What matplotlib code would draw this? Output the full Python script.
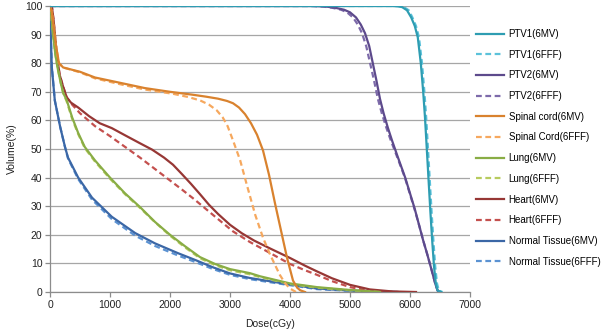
import numpy as np
import matplotlib.pyplot as plt

plt.rcParams['font.family'] = ['Liberation Sans', 'DejaVu Sans']

# DVH curves: dose (cGy) vs volume (%)
ptv1_mv_dose = [0, 5700, 5800, 5870, 5950, 6020, 6080, 6130, 6180, 6220, 6250, 6280, 6310, 6340, 6370, 6400, 6430, 6460, 6520]
ptv1_mv_vol = [100, 100, 99.9, 99.6, 98.5, 96, 93, 89, 80, 70, 61, 50, 39, 28, 18, 9, 3, 0.5, 0]
ptv1_fff_dose = [0, 5750, 5830, 5900, 5980, 6040, 6100, 6150, 6200, 6240, 6270, 6300, 6330, 6360, 6390, 6420, 6450, 6480, 6540]
ptv1_fff_vol = [100, 100, 99.9, 99.6, 98.5, 96, 93, 89, 80, 70, 61, 50, 39, 28, 18, 9, 3, 0.5, 0]

ptv2_mv_dose = [0, 4400, 4600, 4750, 4900, 5000, 5100, 5180, 5250, 5320, 5380, 5440, 5500, 5560, 5630, 5700, 5800, 5920, 6000, 6080, 6150, 6220, 6290, 6360, 6420, 6460, 6500]
ptv2_mv_vol = [100, 100, 99.8, 99.4, 98.7, 97.8, 96, 93.5, 90.5, 86, 80, 74, 67.5, 62.5, 57.5, 53, 47, 40, 34.5, 29, 23.5, 18, 13, 7.7, 3, 0.5, 0]
ptv2_fff_dose = [0, 4350, 4550, 4700, 4850, 4950, 5050, 5130, 5200, 5270, 5335, 5400, 5465, 5530, 5605, 5680, 5790, 5915, 5995, 6075, 6150, 6220, 6290, 6360, 6420, 6460, 6510]
ptv2_fff_vol = [100, 100, 99.8, 99.4, 98.7, 97.8, 96, 93.5, 90.5, 86, 80, 74, 67.5, 62.5, 57.5, 53, 47, 40, 34.5, 29, 23.5, 18, 13, 7.7, 3, 0.5, 0]

cord_mv_dose = [0, 30, 60, 100, 150, 220, 500, 750, 1200, 1580, 2000, 2370, 2600, 2800, 2950, 3050, 3150, 3250, 3350, 3450, 3550, 3650, 3750, 3850, 3950, 4050, 4120, 4170, 4250]
cord_mv_vol = [100, 98, 93, 86, 80, 78.5, 77, 75, 73, 71.3, 70, 69, 68.3, 67.6, 66.8, 66, 64.5, 62.2, 59, 55, 49.5, 41, 31, 21.5, 12, 4, 1.5, 0.6, 0]
cord_fff_dose = [0, 30, 60, 100, 150, 220, 500, 750, 1200, 1580, 2050, 2300, 2500, 2650, 2780, 2880, 2960, 3050, 3170, 3280, 3420, 3550, 3670, 3750, 3830, 3920, 4000, 4100]
cord_fff_vol = [100, 98, 93, 86, 80, 78.5, 76.8, 74.7, 72.5, 70.8, 69.3, 68.2, 67, 65.5, 63.5, 61, 58, 53, 46, 37.5, 27, 19, 13, 9.5, 6, 3, 1.2, 0]

lung_mv_dose = [0, 20, 50, 90, 130, 180, 220, 280, 370, 470, 580, 750, 1000, 1250, 1500, 1750, 2000, 2250, 2500, 2750, 3000, 3330, 3500, 4000, 4450, 5000, 5500]
lung_mv_vol = [100, 97, 90, 83, 78, 73, 69.6, 67, 61, 55.6, 50.7, 46, 40, 34.5, 29.7, 24.5, 20, 16, 12.2, 9.8, 8, 6.6, 5.5, 3, 1.7, 0.7, 0]
lung_fff_dose = [0, 20, 50, 90, 130, 180, 220, 280, 370, 470, 580, 750, 1000, 1250, 1500, 1750, 2000, 2250, 2500, 2750, 3000, 3330, 3500, 4000, 4450, 5000, 5500]
lung_fff_vol = [100, 97, 90, 83, 78, 73, 69.6, 66.5, 60.5, 55.2, 50.3, 45.6, 39.6, 34.2, 29.4, 24.4, 19.7, 15.6, 11.8, 9.4, 7.6, 6.2, 5.2, 2.8, 1.5, 0.6, 0]

heart_mv_dose = [0, 30, 60, 90, 120, 160, 220, 280, 350, 470, 650, 830, 1030, 1250, 1500, 1700, 1900, 2050, 2200, 2350, 2500, 2650, 2800, 3000, 3200, 3400, 3670, 4000, 4250, 4450, 4700, 5000, 5330, 5700, 6100]
heart_mv_vol = [100, 100, 95, 88, 82, 76, 71.7, 68, 66.2, 64.5, 61.5, 59, 57.3, 54.8, 52, 49.8, 47, 44.5, 41.2, 37.8, 34.2, 30.5, 27.3, 23.5, 20.5, 18, 15.2, 11.9, 9.2, 7.2, 4.8, 2.5, 0.9, 0.2, 0]
heart_fff_dose = [0, 30, 60, 90, 120, 160, 220, 280, 370, 500, 750, 1000, 1200, 1500, 1800, 2000, 2200, 2400, 2600, 2800, 3050, 3330, 3670, 4000, 4250, 4450, 4700, 5000, 5330, 5800]
heart_fff_vol = [100, 100, 95, 88, 82, 76, 71.7, 68, 65.5, 62.5, 58, 54.5, 51.5, 47, 42.2, 39, 35.8, 32.5, 29, 25.5, 21.2, 17.5, 13.6, 9.8, 7.6, 6, 3.8, 1.7, 0.4, 0]

nt_mv_dose = [0, 10, 30, 80, 170, 250, 300, 470, 700, 1030, 1420, 1750, 2130, 2420, 2720, 3000, 3330, 3830, 4450, 5000, 5800]
nt_mv_vol = [100, 92, 78.7, 67, 57.7, 50.7, 47, 40, 33, 26.3, 20.6, 17, 13.6, 11.2, 8.6, 6.5, 4.9, 3.2, 1.2, 0.5, 0]
nt_fff_dose = [0, 10, 30, 80, 170, 250, 300, 470, 700, 1030, 1420, 1750, 2130, 2420, 2720, 3000, 3330, 3830, 4450, 5000, 5800]
nt_fff_vol = [100, 92, 78.7, 67, 57.7, 50.7, 46.7, 39.5, 32.3, 25.5, 19.7, 16.1, 12.8, 10.5, 8, 6, 4.5, 2.9, 1.0, 0.4, 0]

labels = ['PTV1(6MV)', 'PTV1(6FFF)', 'PTV2(6MV)', 'PTV2(6FFF)',
          'Spinal cord(6MV)', 'Spinal Cord(6FFF)', 'Lung(6MV)', 'Lung(6FFF)',
          'Heart(6MV)', 'Heart(6FFF)', 'Normal Tissue(6MV)', 'Normal Tissue(6FFF)']
curves = [(ptv1_mv_dose, ptv1_mv_vol), (ptv1_fff_dose, ptv1_fff_vol),
          (ptv2_mv_dose, ptv2_mv_vol), (ptv2_fff_dose, ptv2_fff_vol),
          (cord_mv_dose, cord_mv_vol), (cord_fff_dose, cord_fff_vol),
          (lung_mv_dose, lung_mv_vol), (lung_fff_dose, lung_fff_vol),
          (heart_mv_dose, heart_mv_vol), (heart_fff_dose, heart_fff_vol),
          (nt_mv_dose, nt_mv_vol), (nt_fff_dose, nt_fff_vol)]
colors = ['#2E9DB2', '#5BC2DA', '#5D4A8C', '#7D6AAA',
          '#D9822E', '#F6A85E', '#89AD45', '#B7CB5E',
          '#973735', '#C4504E', '#3B67A6', '#5B92D2']

fig = plt.figure(figsize=(6.03, 3.35), dpi=100)
ax = fig.add_axes([50 / 603, 1 - 292 / 335, 420 / 603, 286 / 335])

# first series drawn on top, like the original
handles = []
for i in range(len(labels)):
    d, v = curves[i]
    ls = '-' if i % 2 == 0 else (0, (2.6, 1.6))
    line, = ax.plot(d, v, color=colors[i], lw=1.6, ls=ls, label=labels[i],
                    solid_joinstyle='round',
                    zorder=3 + (len(labels) - i) * 0.01)
    handles.append(line)

ax.set_xlim(0, 7000)
ax.set_ylim(0, 100)
ax.set_xticks(np.arange(0, 7001, 1000))
ax.set_yticks(np.arange(0, 101, 10))
ax.yaxis.grid(True, color='#A6A6A6', lw=0.9)
ax.set_axisbelow(True)
for s in ['top', 'right']:
    ax.spines[s].set_visible(False)
for s in ['left', 'bottom']:
    ax.spines[s].set_color('#8C8C8C')
    ax.spines[s].set_linewidth(0.9)
ax.tick_params(axis='both', direction='out', length=3.5, color='#8C8C8C',
               labelsize=7.5, labelcolor='#222222', width=0.9, pad=2)

ax.set_xlabel('Dose(cGy)', fontsize=7.5, color='#222222')
ax.xaxis.set_label_coords(0.524, -0.095)
ax.set_ylabel('Volume(%)', fontsize=7.5, color='#222222', labelpad=6)

fig.legend(handles=handles, labels=labels, loc='upper left',
           bbox_to_anchor=(476 / 603, 1 - 29 / 335), frameon=False,
           fontsize=7, handlelength=2.9, handletextpad=0.45,
           labelspacing=1.1, borderaxespad=0, borderpad=0)

fig.savefig('out.png', dpi=100)
